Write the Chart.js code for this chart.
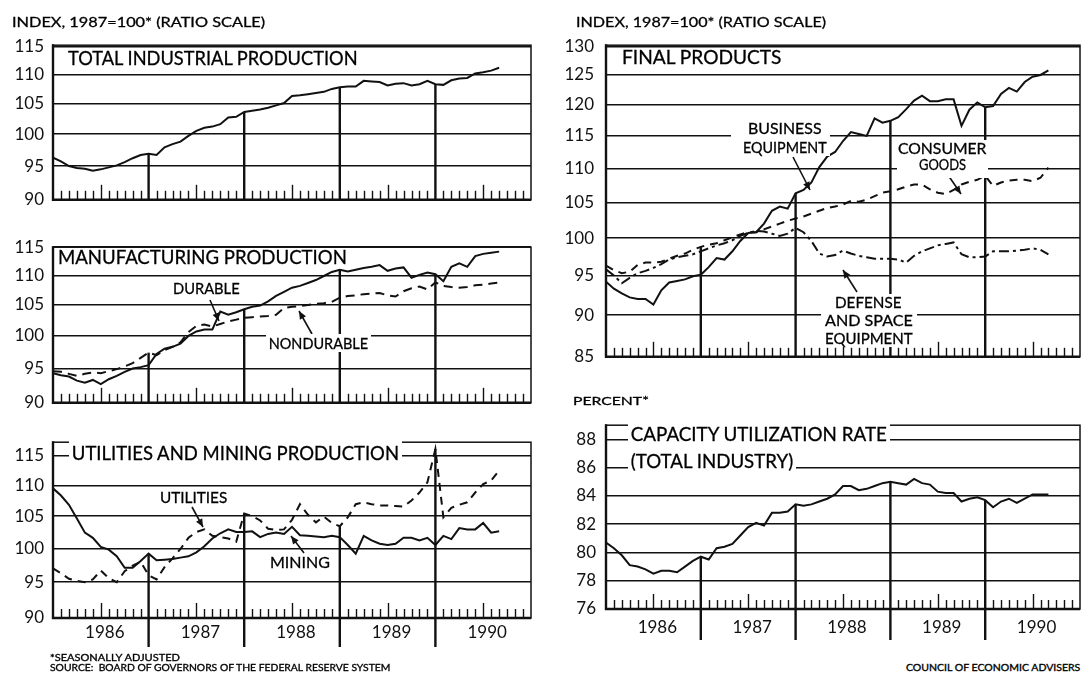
<!DOCTYPE html>
<html><head><meta charset="utf-8"><title>Industrial production and capacity utilization</title>
<script src="https://cdn.jsdelivr.net/npm/chart.js@4.4.1/dist/chart.umd.min.js"></script>
<style>
html,body{margin:0;padding:0;background:#fff}
body{position:relative;width:1082px;height:675px;overflow:hidden;font-family:Lato,"DejaVu Sans",sans-serif;color:#000}
canvas{position:absolute}
.t{position:absolute;white-space:nowrap;line-height:1;transform-origin:0 50%;transform:translateY(-50%);-webkit-text-stroke:0.3px #000}
.bg{background:#fff;padding:1px 3px}
.box{position:absolute;background:#fff}
</style></head><body>
<canvas id="c1"></canvas>
<canvas id="c2"></canvas>
<canvas id="c3"></canvas>
<canvas id="c4"></canvas>
<canvas id="c5"></canvas>

<div class="t" style="left:12px;top:22px;font-size:14px" data-w="253">INDEX, 1987=100* (RATIO SCALE)</div>
<div class="t" style="left:576px;top:22px;font-size:14px" data-w="250">INDEX, 1987=100* (RATIO SCALE)</div>
<div class="t" style="left:573px;top:401px;font-size:12px" data-w="76">PERCENT*</div>

<div class="t" style="left:68px;top:57px;font-size:20px" data-w="290">TOTAL INDUSTRIAL PRODUCTION</div>
<div class="t" style="left:58px;top:256px;font-size:20px" data-w="289">MANUFACTURING PRODUCTION</div>
<div class="t bg" style="left:69px;top:452px;font-size:20px" data-w="333">UTILITIES AND MINING PRODUCTION</div>
<div class="t" style="left:622px;top:56px;font-size:19px" data-w="159">FINAL PRODUCTS</div>
<div class="t bg" style="left:628px;top:433px;font-size:20px" data-w="262">CAPACITY UTILIZATION RATE</div>
<div class="t bg" style="left:628px;top:460px;font-size:20px" data-w="168">(TOTAL INDUSTRY)</div>

<div class="t" style="left:173px;top:288px;font-size:16px" data-w="67">DURABLE</div>
<div class="t bg" style="left:266px;top:343px;font-size:16px" data-w="105">NONDURABLE</div>
<div class="t" style="left:160px;top:497px;font-size:16px" data-w="67">UTILITIES</div>
<div class="t" style="left:270px;top:562px;font-size:16px" data-w="60">MINING</div>

<div class="box" style="left:731px;top:119px;width:99px;height:37px"></div>
<div class="t" style="left:748px;top:128px;font-size:15px" data-w="73">BUSINESS</div>
<div class="t" style="left:743px;top:147px;font-size:15px" data-w="84">EQUIPMENT</div>

<div class="box" style="left:897px;top:140px;width:91px;height:38px"></div>
<div class="t" style="left:898px;top:148px;font-size:15px" data-w="88">CONSUMER</div>
<div class="t" style="left:919px;top:164px;font-size:16px" data-w="47">GOODS</div>

<div class="box" style="left:821px;top:294px;width:96px;height:53px"></div>
<div class="t" style="left:835px;top:302px;font-size:15px" data-w="66">DEFENSE</div>
<div class="t" style="left:825px;top:320px;font-size:15px" data-w="88">AND SPACE</div>
<div class="t" style="left:825px;top:338px;font-size:15px" data-w="88">EQUIPMENT</div>

<div class="t" style="left:50px;top:657px;font-size:9px" data-w="130">*SEASONALLY ADJUSTED</div>
<div class="t" style="left:50px;top:667px;font-size:9px" data-w="340">SOURCE:&nbsp; BOARD OF GOVERNORS OF THE FEDERAL RESERVE SYSTEM</div>
<div class="t" style="left:906px;top:667px;font-size:9px" data-w="174">COUNCIL OF ECONOMIC ADVISERS</div>

<script>
// ---------- data (monthly, Jan 1986 .. Sep 1990) ----------
const YEARS = ['1986', '1987', '1988', '1989', '1990'];
const YEAR_BOUNDARIES = [12, 24, 36, 48];
const INDEX_TICKS_LEFT = [90, 95, 100, 105, 110, 115];
const INDEX_TICKS_RIGHT = [85, 90, 95, 100, 105, 110, 115, 120, 125, 130];
const PERCENT_TICKS = [76, 78, 80, 82, 84, 86, 88];

const TOTAL_IP = [
  96.3, 95.7, 95.0, 94.7, 94.6, 94.3, 94.5, 94.8, 95.1, 95.6, 96.2, 96.7,
  96.9, 96.7, 97.9, 98.4, 98.8, 99.7, 100.5, 101.0, 101.2, 101.6, 102.7, 102.8,
  103.6, 103.8, 104.0, 104.3, 104.7, 105.1, 106.3, 106.4, 106.6, 106.8, 107.0, 107.5,
  107.8, 107.9, 107.9, 108.9, 108.8, 108.7, 108.1, 108.4, 108.5, 108.1, 108.3, 108.9,
  108.3, 108.2, 109.0, 109.3, 109.4, 110.2, 110.4, 110.7, 111.2];

const DURABLE = [
  94.3, 94.0, 93.8, 93.2, 92.9, 93.3, 92.7, 93.4, 93.9, 94.5, 95.0, 95.2,
  95.5, 97.2, 98.0, 98.3, 98.8, 100.0, 100.7, 101.0, 101.0, 103.9, 103.4, 103.8,
  104.3, 104.7, 104.9, 105.6, 106.5, 107.2, 107.9, 108.2, 108.7, 109.2, 109.9, 110.6,
  111.0, 110.7, 111.0, 111.3, 111.5, 111.8, 110.8, 111.2, 111.4, 109.6, 110.1, 110.5,
  110.2, 109.0, 111.5, 112.1, 111.5, 113.4, 113.8, 114.0, 114.2];

const NONDURABLE = [
  94.6, 94.5, 94.2, 93.9, 94.2, 94.4, 94.3, 94.6, 94.9, 95.3, 95.8, 96.6,
  97.4, 97.0, 97.8, 98.3, 99.0, 100.6, 101.6, 101.8, 101.5, 101.9, 102.3, 102.6,
  102.9, 103.0, 103.1, 103.2, 103.4, 104.5, 104.7, 104.8, 105.0, 105.2, 105.3, 105.5,
  106.2, 106.5, 106.6, 106.8, 106.9, 107.0, 106.6, 106.4, 107.3, 107.8, 108.1, 107.6,
  108.8, 108.2, 108.0, 107.9, 108.0, 108.3, 108.4, 108.6, 108.8];

const UTILITIES = [
  97.0, 96.3, 95.5, 95.2, 95.0, 95.4, 96.7, 95.6, 95.0, 96.6, 97.4, 98.0,
  96.0, 95.4, 97.2, 98.5, 99.9, 101.6, 102.5, 102.9, 101.9, 101.7, 101.5, 101.0,
  105.4, 105.0, 104.3, 103.0, 102.8, 102.9, 104.4, 106.9, 105.2, 104.0, 104.9, 103.9,
  103.4, 104.8, 106.9, 107.2, 106.9, 106.7, 106.7, 106.6, 106.5, 107.5, 108.8, 110.5,
  116.2, 104.8, 106.3, 106.8, 107.2, 108.8, 110.2, 110.8, 112.5];

const MINING = [
  109.5, 108.3, 106.8, 104.6, 102.4, 101.6, 100.2, 99.8, 98.8, 97.1, 97.1, 98.1,
  99.2, 98.2, 98.3, 98.4, 98.6, 98.8, 99.4, 100.3, 101.5, 102.3, 102.9, 102.5,
  102.5, 102.6, 101.7, 102.2, 102.4, 102.2, 103.3, 102.0, 101.9, 101.8, 101.7, 101.9,
  101.7, 100.5, 99.2, 101.9, 101.2, 100.7, 100.5, 100.7, 101.6, 101.6, 101.2, 101.6,
  100.5, 101.9, 101.4, 103.1, 102.9, 102.9, 103.9, 102.4, 102.6];

const BUSINESS_EQUIPMENT = [
  94.2, 93.3, 92.7, 92.2, 92.0, 92.0, 91.3, 93.1, 94.1, 94.3, 94.5, 94.9,
  95.1, 96.1, 97.3, 97.1, 98.2, 99.6, 100.7, 100.8, 102.0, 103.8, 104.4, 104.1,
  106.3, 106.8, 107.9, 110.2, 111.8, 112.5, 114.2, 115.6, 115.3, 115.0, 117.8, 117.1,
  117.4, 118.0, 119.3, 120.7, 121.5, 120.6, 120.6, 120.9, 120.9, 116.6, 119.2, 120.4,
  119.6, 119.8, 121.8, 122.8, 122.2, 123.8, 124.7, 125.0, 125.8];

const CONSUMER_GOODS = [
  96.3, 95.7, 95.3, 95.5, 96.4, 96.7, 96.7, 96.8, 97.2, 97.6, 97.9, 98.4,
  98.8, 99.1, 99.3, 99.7, 100.1, 100.5, 100.8, 100.8, 101.2, 101.6, 102.0, 102.4,
  102.7, 103.0, 103.4, 103.8, 104.2, 104.4, 104.7, 105.2, 105.1, 105.4, 105.9, 106.4,
  106.6, 106.9, 107.3, 107.6, 107.6, 106.9, 106.4, 106.2, 106.8, 107.6, 108.0, 108.3,
  108.9, 107.4, 107.9, 108.2, 108.3, 108.3, 108.1, 108.6, 110.1];

const DEFENSE_SPACE = [
  95.8, 95.0, 94.0, 94.7, 95.3, 95.6, 96.0, 96.5, 97.1, 97.4, 97.6, 97.8,
  98.2, 98.6, 99.0, 99.3, 99.7, 100.3, 100.7, 101.0, 100.9, 100.6, 100.3, 100.6,
  101.4, 100.8, 99.6, 97.9, 97.5, 97.7, 98.3, 97.9, 97.6, 97.4, 97.2, 97.2,
  97.2, 97.1, 96.7, 97.6, 98.2, 98.6, 99.0, 99.2, 99.4, 97.8, 97.4, 97.4,
  97.5, 98.2, 98.2, 98.2, 98.3, 98.4, 98.6, 98.4, 97.8];

const CAPACITY_UTILIZATION = [
  80.7, 80.3, 79.8, 79.1, 79.0, 78.8, 78.5, 78.7, 78.7, 78.6, 79.0, 79.4,
  79.7, 79.5, 80.3, 80.4, 80.6, 81.2, 81.8, 82.1, 81.9, 82.8, 82.8, 82.9,
  83.4, 83.3, 83.4, 83.6, 83.8, 84.1, 84.7, 84.7, 84.4, 84.5, 84.7, 84.9,
  85.0, 84.9, 84.8, 85.2, 84.9, 84.8, 84.3, 84.2, 84.2, 83.6, 83.8, 83.9,
  83.7, 83.2, 83.6, 83.8, 83.5, 83.8, 84.1, 84.1, 84.1];

// ---------- rendering ----------
const INK = '#111';
Chart.defaults.font.family = 'Lato, "DejaVu Sans", sans-serif';
Chart.defaults.color = INK;

function arrow(ctx, x1, y1, x2, y2) {
  ctx.beginPath(); ctx.moveTo(x1, y1); ctx.lineTo(x2, y2); ctx.stroke();
  const a = Math.atan2(y2 - y1, x2 - x1), L = 8, W = 3.5;
  ctx.beginPath(); ctx.moveTo(x2, y2);
  ctx.lineTo(x2 - L * Math.cos(a) + W * Math.sin(a), y2 - L * Math.sin(a) - W * Math.cos(a));
  ctx.lineTo(x2 - L * Math.cos(a) - W * Math.sin(a), y2 - L * Math.sin(a) + W * Math.cos(a));
  ctx.closePath(); ctx.fill();
}

const decor = {
  id: 'decor',
  afterDatasetsDraw(chart, args, opts) {
    const {ctx, chartArea: a, scales: {x}} = chart;
    ctx.save();
    ctx.strokeStyle = INK; ctx.fillStyle = INK; ctx.lineCap = 'butt';
    // frame
    ctx.lineWidth = 1.5;
    ctx.strokeRect(a.left, a.top, a.right - a.left, a.bottom - a.top);
    ctx.lineWidth = 2.4;
    ctx.beginPath(); ctx.moveTo(a.left, a.top - 1); ctx.lineTo(a.left, a.bottom); ctx.lineTo(a.right, a.bottom); ctx.stroke();
    // monthly ticks
    ctx.lineWidth = 1.4;
    for (let m = 1; m < 60; m++) {
      if (m % 12 === 0) continue;
      const px = Math.round(x.getPixelForValue(m)) + 0.5;
      const h = m % 12 === 6 ? 15 : 9;
      ctx.beginPath(); ctx.moveTo(px, a.bottom); ctx.lineTo(px, a.bottom - h); ctx.stroke();
    }
    // year separators: drop lines from the highest series
    ctx.lineWidth = 2.4;
    YEAR_BOUNDARIES.forEach(k => {
      let top = a.bottom;
      chart.data.datasets.forEach((d, i) => {
        const p = chart.getDatasetMeta(i).data[k];
        if (p && p.y < top) top = p.y;
      });
      const px = x.getPixelForValue(k);
      ctx.beginPath(); ctx.moveTo(px, top); ctx.lineTo(px, a.bottom + (opts.extend || 0)); ctx.stroke();
    });
    // annotation arrows (page coordinates)
    ctx.lineWidth = 1.6;
    (opts.arrows || []).forEach(([x1, y1, x2, y2]) => {
      arrow(ctx, x1 - opts.offX, y1 - opts.offY, x2 - opts.offX, y2 - opts.offY);
    });
    ctx.restore();
  }
};

function pts(arr) { return arr.map((v, i) => ({x: i, y: v})); }

function panel(id, p) {
  const el = document.getElementById(id);
  el.width = p.w; el.height = p.h;
  el.style.left = p.left + 'px'; el.style.top = p.top + 'px';
  el.style.width = p.w + 'px'; el.style.height = p.h + 'px';
  new Chart(el, {
    type: 'line',
    data: {
      datasets: p.series.map(s => ({
        data: pts(s.data), borderColor: INK, borderWidth: 2, borderDash: s.dash || [],
        pointRadius: 0, tension: 0, fill: false
      }))
    },
    options: {
      responsive: false, animation: false, devicePixelRatio: 1,
      layout: {padding: {top: p.padTop, right: p.padRight, left: 0, bottom: 0}},
      plugins: {legend: {display: false}, tooltip: {enabled: false},
        decor: {extend: p.extend, arrows: p.arrows, offX: p.left, offY: p.top}},
      scales: {
        x: {
          type: 'linear', min: 0, max: 60,
          grid: {display: false, drawTicks: false}, border: {display: false},
          afterBuildTicks: s => { s.ticks = YEARS.map((y, k) => ({value: 6.5 + 12 * k})); },
          afterFit: s => { s.height = p.xH; },
          ticks: {display: p.years, autoSkip: false, maxRotation: 0, padding: p.labPadX,
            font: {size: 17}, callback: v => YEARS[Math.round((v - 6.5) / 12)]}
        },
        y: {
          type: p.log ? 'logarithmic' : 'linear', min: p.min, max: p.max,
          afterBuildTicks: s => { s.ticks = p.ticks.map(v => ({value: v})); },
          afterFit: s => { s.width = p.yW; },
          grid: {color: INK, lineWidth: 1.5, drawTicks: false},
          border: {display: false},
          ticks: {autoSkip: false, padding: p.labPadY, font: {size: 17}, callback: v => String(v)}
        }
      }
    },
    plugins: [decor]
  });
}

panel('c1', {left: 0, top: 26, w: 540, h: 193, padTop: 12, padRight: 9, yW: 53, xH: 4,
  log: true, min: 90, max: 115.3, ticks: INDEX_TICKS_LEFT, labPadY: 9, years: false, extend: 0,
  series: [{data: TOTAL_IP}], arrows: []});

panel('c2', {left: 0, top: 228, w: 540, h: 194, padTop: 12, padRight: 9, yW: 53, xH: 4,
  log: true, min: 90, max: 115, ticks: INDEX_TICKS_LEFT, labPadY: 9, years: false, extend: 0,
  series: [{data: DURABLE}, {data: NONDURABLE, dash: [9, 6]}],
  arrows: [[210, 300, 219, 321], [312, 334, 299, 311]]});

panel('c3', {left: 0, top: 423, w: 540, h: 237, padTop: 12, padRight: 9, yW: 53, xH: 42,
  log: true, min: 90, max: 117.4, ticks: INDEX_TICKS_LEFT, labPadY: 9, years: true, labPadX: 4, extend: 29,
  series: [{data: MINING}, {data: UTILITIES, dash: [8, 6]}],
  arrows: [[192, 507, 203, 527], [304, 553, 291, 536]]});

panel('c4', {left: 560, top: 23, w: 522, h: 356, padTop: 12, padRight: 2, yW: 46, xH: 4,
  log: true, min: 85, max: 130.2, ticks: INDEX_TICKS_RIGHT, labPadY: 12, years: false, extend: 0,
  series: [{data: BUSINESS_EQUIPMENT}, {data: CONSUMER_GOODS, dash: [8, 6]},
           {data: DEFENSE_SPACE, dash: [10, 4, 3, 4]}],
  arrows: [[793, 157, 810, 190], [946, 172, 961, 194], [857, 292, 843, 270]]});

panel('c5', {left: 560, top: 405, w: 522, h: 246, padTop: 12, padRight: 2, yW: 46, xH: 42,
  log: false, min: 76, max: 89, ticks: PERCENT_TICKS, labPadY: 10, years: true, labPadX: 8, extend: 31,
  series: [{data: CAPACITY_UTILIZATION}], arrows: []});

// fit the widths of the text blocks
document.querySelectorAll('.t').forEach(el => {
  const w = parseFloat(el.dataset.w);
  const k = w / el.offsetWidth;
  el.style.transform = 'translateY(-50%) scaleX(' + k.toFixed(4) + ')';
});
</script>
</body></html>
